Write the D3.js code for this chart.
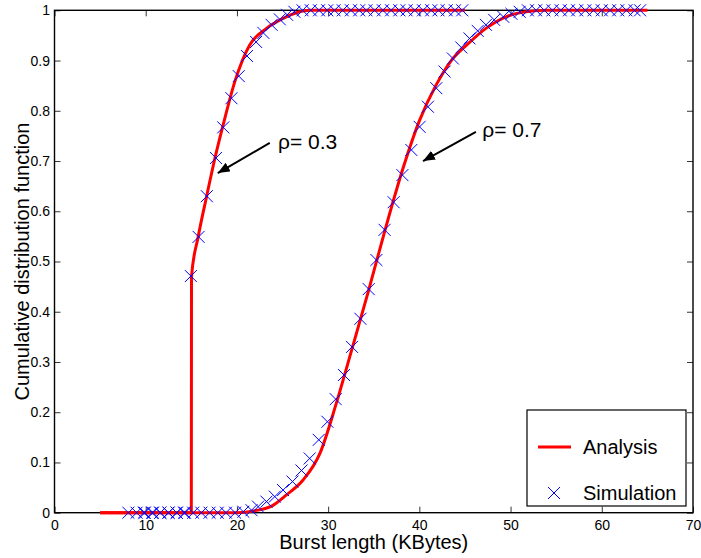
<!DOCTYPE html>
<html>
<head>
<meta charset="utf-8">
<style>
	body { margin: 0; background: #fff; }
	svg { font-family: "Liberation Sans", Arial, sans-serif; }
</style>
</head>
<body>
<div id="chart"></div>
<script src="https://cdn.jsdelivr.net/npm/d3@7"></script>
<script>
	// tick labels
	var xTicks = [0, 10, 20, 30, 40, 50, 60, 70];
	var yTicks = [0, 0.1, 0.2, 0.3, 0.4, 0.5, 0.6, 0.7, 0.8, 0.9, 1];

	// analysis curves
	var analysis03 = [[5, 0], [15, 0], [15.02, 0.47], [15.75, 0.549], [16.67, 0.629], [17.58, 0.705],
		[18.49, 0.772], [19.77, 0.858], [21.4, 0.931], [23.24, 0.964], [25.06, 0.984], [26.7, 0.996],
		[28, 1], [45, 1]];
	var analysis07 = [[5, 0], [20, 0], [22, 0.004], [23.8, 0.013], [25.4, 0.035], [27.25, 0.065],
		[29.1, 0.118], [30.9, 0.218], [32.6, 0.325], [34.4, 0.44], [36.2, 0.56], [38.2, 0.685],
		[40, 0.78], [41.8, 0.85], [43.5, 0.9], [45.2, 0.931], [47.3, 0.964], [49.5, 0.987],
		[51.7, 0.997], [54, 1], [65, 1]];

	// simulation points
	var sim03 = [[8.1, 0], [9.0, 0], [9.9, 0], [10.8, 0], [11.6, 0], [12.5, 0], [13.4, 0], [14.2, 0],
		[14.95, 0.471], [15.8, 0.549], [16.7, 0.63], [17.7, 0.706], [18.5, 0.767], [19.4, 0.825],
		[20.2, 0.869], [21.1, 0.909], [22.1, 0.937], [22.9, 0.955], [23.8, 0.971], [24.7, 0.982],
		[25.5, 0.991], [26.3, 0.997], [27.2, 1], [28.1, 1], [29.0, 1], [29.9, 1], [30.7, 1], [31.6, 1],
		[32.5, 1], [33.4, 1], [34.2, 1], [35.1, 1], [36.0, 1], [36.9, 1], [37.8, 1], [38.6, 1],
		[39.5, 1], [40.4, 1], [41.3, 1], [42.1, 1], [43.0, 1], [43.9, 1], [44.7, 1]];
	var sim07 = [[9.8, 0], [10.7, 0], [11.6, 0], [12.5, 0], [13.4, 0], [14.3, 0], [15.2, 0], [16.1, 0],
		[17.0, 0], [17.9, 0], [18.8, 0], [19.8, 0], [20.7, 0.002], [21.6, 0.005], [22.32, 0.012],
		[23.24, 0.022], [24.15, 0.032], [25.06, 0.045], [26.09, 0.062], [27.08, 0.084], [27.98, 0.108],
		[28.97, 0.145], [29.92, 0.181], [30.83, 0.226], [31.74, 0.274], [32.62, 0.33], [33.54, 0.386],
		[34.45, 0.445], [35.29, 0.503], [36.19, 0.563], [37.18, 0.618], [38.14, 0.672], [39.12, 0.722],
		[40.03, 0.768], [40.94, 0.808], [41.86, 0.845], [42.77, 0.878], [43.68, 0.904], [44.6, 0.926],
		[45.5, 0.944], [46.4, 0.959], [47.3, 0.971], [48.2, 0.981], [49.2, 0.987], [50.1, 0.993],
		[51.0, 0.997], [51.9, 1], [52.8, 1], [53.7, 1], [54.6, 1], [55.5, 1], [56.4, 1], [57.3, 1],
		[58.2, 1], [59.1, 1], [60.0, 1], [60.9, 1], [61.8, 1], [62.7, 1], [63.6, 1], [64.2, 1]];

	// annotations: label, text position, arrow start, arrow tip (data units)
	var notes = [
		{ label: 'ρ= 0.3', tx: 24.5, ty: 0.724, x1: 23.6, y1: 0.736, x2: 17.9, y2: 0.676 },
		{ label: 'ρ= 0.7', tx: 46.9, ty: 0.748, x1: 46.2, y1: 0.758, x2: 40.4, y2: 0.70 }
	];

	var W = 701, H = 558;
	var plotL = 54.5, plotR = 693, plotT = 10.3, plotB = 512.7;

	var svg = d3.select('#chart').append('svg')
		.attr('width', W)
		.attr('height', H);

	var x = d3.scaleLinear().domain([0, 70]).range([plotL, plotR]);
	var y = d3.scaleLinear().domain([0, 1]).range([plotB, plotT]);

	var tickLen = 6;
	var fmt = d => d3.format('')(d);

	// box axes, ticks pointing inward
	svg.append('g')
		.attr('transform', 'translate(0,' + plotB + ')')
		.call(d3.axisBottom(x).tickValues(xTicks).tickSizeInner(-tickLen).tickSizeOuter(0).tickPadding(7).tickFormat(fmt))
		.call(g => {
			g.select('.domain').remove()
			g.attr('font-size', 14).attr('font-family', null)
			g.selectAll('text').attr('fill', '#000')
			g.selectAll('line').attr('stroke', '#333')
		});
	svg.append('g')
		.attr('transform', 'translate(0,' + plotT + ')')
		.call(d3.axisTop(x).tickValues(xTicks).tickSizeInner(-tickLen).tickSizeOuter(0).tickFormat(''))
		.call(g => {
			g.select('.domain').remove()
			g.selectAll('line').attr('stroke', '#333')
		});
	svg.append('g')
		.attr('transform', 'translate(' + plotL + ',0)')
		.call(d3.axisLeft(y).tickValues(yTicks).tickSizeInner(-tickLen).tickSizeOuter(0).tickPadding(4.5).tickFormat(fmt))
		.call(g => {
			g.select('.domain').remove()
			g.attr('font-size', 14).attr('font-family', null)
			g.selectAll('text').attr('fill', '#000')
			g.selectAll('line').attr('stroke', '#333')
		});
	svg.append('g')
		.attr('transform', 'translate(' + plotR + ',0)')
		.call(d3.axisRight(y).tickValues(yTicks).tickSizeInner(-tickLen).tickSizeOuter(0).tickFormat(''))
		.call(g => {
			g.select('.domain').remove()
			g.selectAll('line').attr('stroke', '#333')
		});

	svg.append('rect')
		.attr('x', plotL)
		.attr('y', plotT)
		.attr('width', plotR - plotL)
		.attr('height', plotB - plotT)
		.attr('fill', 'none')
		.attr('stroke', '#000')
		.attr('stroke-width', 1.4);

	// axis titles
	svg.append('text')
		.attr('x', (plotL + plotR) / 2)
		.attr('y', 549)
		.attr('text-anchor', 'middle')
		.attr('font-size', 20)
		.text('Burst length (KBytes)');
	svg.append('text')
		.attr('transform', 'translate(28.5,' + (plotT + plotB) / 2 + ') rotate(-90)')
		.attr('text-anchor', 'middle')
		.attr('font-size', 20)
		.text('Cumulative distribution function');

	// analysis lines
	var line = d3.line()
		.x(d => x(d[0]))
		.y(d => y(d[1]))
		.curve(d3.curveMonotoneX);

	svg.selectAll('path.analysis')
		.data([analysis07, analysis03])
		.enter().append('path')
		.attr('class', 'analysis')
		.attr('d', line)
		.attr('fill', 'none')
		.attr('stroke', '#ff0000')
		.attr('stroke-width', 3);

	// simulation crosses
	var cross = 6;
	var crossPath = 'M' + (-cross) + ',' + (-cross) + 'L' + cross + ',' + cross +
		'M' + (-cross) + ',' + cross + 'L' + cross + ',' + (-cross);

	svg.selectAll('path.sim')
		.data(sim03.concat(sim07))
		.enter().append('path')
		.attr('class', 'sim')
		.attr('transform', d => 'translate(' + x(d[0]) + ',' + y(d[1]) + ')')
		.attr('d', crossPath)
		.attr('fill', 'none')
		.attr('stroke', '#0000ff')
		.attr('stroke-width', 1);

	// arrows
	var defs = svg.append('defs');
	defs.append('marker')
		.attr('id', 'head')
		.attr('viewBox', '0 0 12 10')
		.attr('refX', 12)
		.attr('refY', 5)
		.attr('markerWidth', 12)
		.attr('markerHeight', 10)
		.attr('markerUnits', 'userSpaceOnUse')
		.attr('orient', 'auto')
		.append('path')
		.attr('d', 'M0,0L12,5L0,10Z')
		.attr('fill', '#000');

	var noteG = svg.selectAll('g.note')
		.data(notes)
		.enter().append('g')
		.attr('class', 'note');
	noteG.append('line')
		.attr('x1', d => x(d.x1))
		.attr('y1', d => y(d.y1))
		.attr('x2', d => x(d.x2))
		.attr('y2', d => y(d.y2))
		.attr('stroke', '#000')
		.attr('stroke-width', 2)
		.attr('marker-end', 'url(#head)');
	noteG.append('text')
		.attr('x', d => x(d.tx))
		.attr('y', d => y(d.ty))
		.attr('font-size', 21)
		.text(d => d.label);

	// legend
	var legend = svg.append('g')
		.attr('transform', 'translate(527,410)');
	legend.append('rect')
		.attr('width', 159)
		.attr('height', 96)
		.attr('fill', '#fff')
		.attr('stroke', '#000')
		.attr('stroke-width', 1.2);
	legend.append('line')
		.attr('x1', 11)
		.attr('x2', 44)
		.attr('y1', 37)
		.attr('y2', 37)
		.attr('stroke', '#ff0000')
		.attr('stroke-width', 3);
	legend.append('path')
		.attr('transform', 'translate(27,83)')
		.attr('d', crossPath)
		.attr('fill', 'none')
		.attr('stroke', '#0000ff')
		.attr('stroke-width', 1);
	legend.selectAll('text')
		.data(['Analysis', 'Simulation'])
		.enter().append('text')
		.attr('x', 56)
		.attr('y', (d, i) => 44 + i * 46)
		.attr('font-size', 20)
		.text(d => d);
</script>
</body>
</html>
